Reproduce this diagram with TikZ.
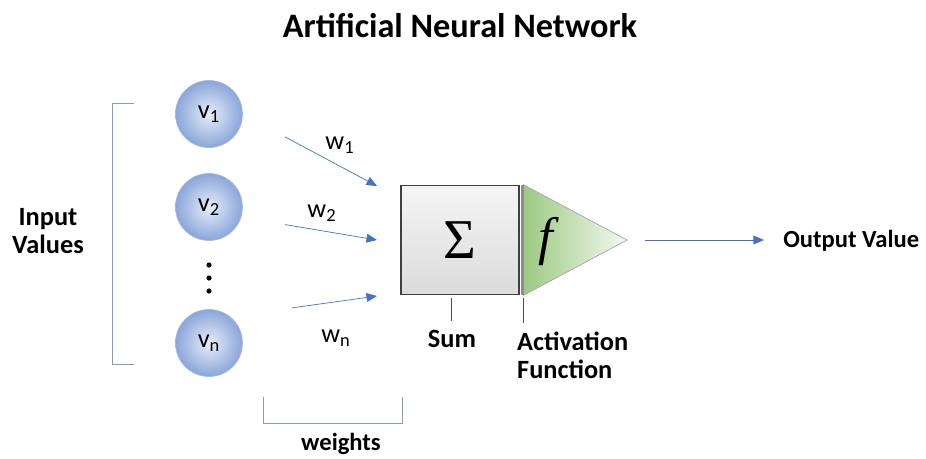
\documentclass[tikz,border=0pt]{standalone}
\usepackage{fontspec}
\setmainfont{Carlito}
\newfontfamily\symfont{Liberation Serif}
\usetikzlibrary{positioning, arrows.meta}

\definecolor{wireblue}{HTML}{4472C4}
\definecolor{ballblue}{HTML}{8AA6DA}
\definecolor{leafgreen}{HTML}{9DC982}

\tikzset{
  neuron/.style={circle, minimum size=1.34cm, inner sep=0pt, draw=ballblue!80,
    inner color=white!80!ballblue, outer color=ballblue, font=\fontsize{15}{15}\selectfont},
  wire/.style={draw=wireblue, -{Triangle[length=6pt,width=5pt]}, thin},
  label/.style={font=\bfseries\fontsize{15}{18}\selectfont, align=center},
  brace/.style={draw=ballblue!70!gray, thin},
  tick/.style={draw=black!70, thin}
}

\begin{document}
\begin{tikzpicture}[x=0.02cm, y=-0.02cm]
    \useasboundingbox (0,0) rectangle (926,458);
    % Title
    \node[font=\bfseries\fontsize{19.5}{22}\selectfont] (title) at (460,26) {Artificial Neural Network};

    % Inputs
    \node[neuron] (v1) at (209,114) {v\textsubscript{1}};
    \node[neuron] (v2) at (209,207) {v\textsubscript{2}};
    \node[neuron] (vn) at (209,343) {v\textsubscript{n}};
    \foreach \y in {265,278,291}
        \fill (209,\y) circle (2.6);
    \node[label] (input) at (48,231) {Input\\[-2pt]Values};
    \draw[brace] (134,103) -- (112,103) -- (112,364) -- (134,364);

    % Sum and activation
    \node[draw=black!75, line width=1pt, minimum width=2.36cm, minimum height=2.18cm,
      top color=gray!8, bottom color=gray!28] (sum) at (460,240) {};
    \node (sigma) at (sum.center) {\symfont\fontsize{32}{32}\selectfont Σ};
    \coordinate (tip) at (627,240);
    \path[draw=black!35, left color=leafgreen, right color=leafgreen!12]
      ([xshift=2pt]sum.north east) -- (tip) -- ([xshift=2pt]sum.south east) -- cycle;
    \draw[draw=black!45, line width=1.2pt] ([xshift=1.5pt]sum.north east) -- ([xshift=1.5pt]sum.south east);
    \node (f) at (546,242) {\symfont\itshape\fontsize{30}{30}\selectfont f};

    % Weights
    \coordinate (in1) at (377,186);
    \coordinate (in2) at (377,240);
    \coordinate (in3) at (377,296);
    \draw[wire] ([xshift=24,yshift=-13]v1.east) -- (in1);
    \draw[wire] ([xshift=24,yshift=-10]v2.east) -- (in2);
    \draw[wire] ([xshift=28,yshift=20]vn.east) -- (in3);
    \node[font=\fontsize{15}{15}\selectfont] (w1) at (340,145) {w\textsubscript{1}};
    \node[font=\fontsize{15}{15}\selectfont] (w2) at (322,213) {w\textsubscript{2}};
    \node[font=\fontsize{15}{15}\selectfont] (wn) at (336,338) {w\textsubscript{n}};
    \draw[brace] (263,397) -- (263,423) -- (402,423) -- (402,397);
    \node[label, font=\bfseries\fontsize{14}{16}\selectfont] (weights) at (341,444) {weights};

    % Output
    \coordinate (outend) at (764,240);
    \draw[wire] ([xshift=10]tip) -- (outend);
    \node[label, font=\bfseries\fontsize{14}{16}\selectfont, anchor=west, inner sep=0pt] (output) at (783,241) {Output Value};

    % Labels below
    \draw[tick] (451,298) -- (451,321);
    \draw[tick] (523,298) -- (523,323);
    \node[label] (sumlbl) at (452,339) {Sum};
    \node[label, align=left, anchor=north west] (act) at (511,326) {Activation\\[-2pt]Function};
\end{tikzpicture}
\end{document}
